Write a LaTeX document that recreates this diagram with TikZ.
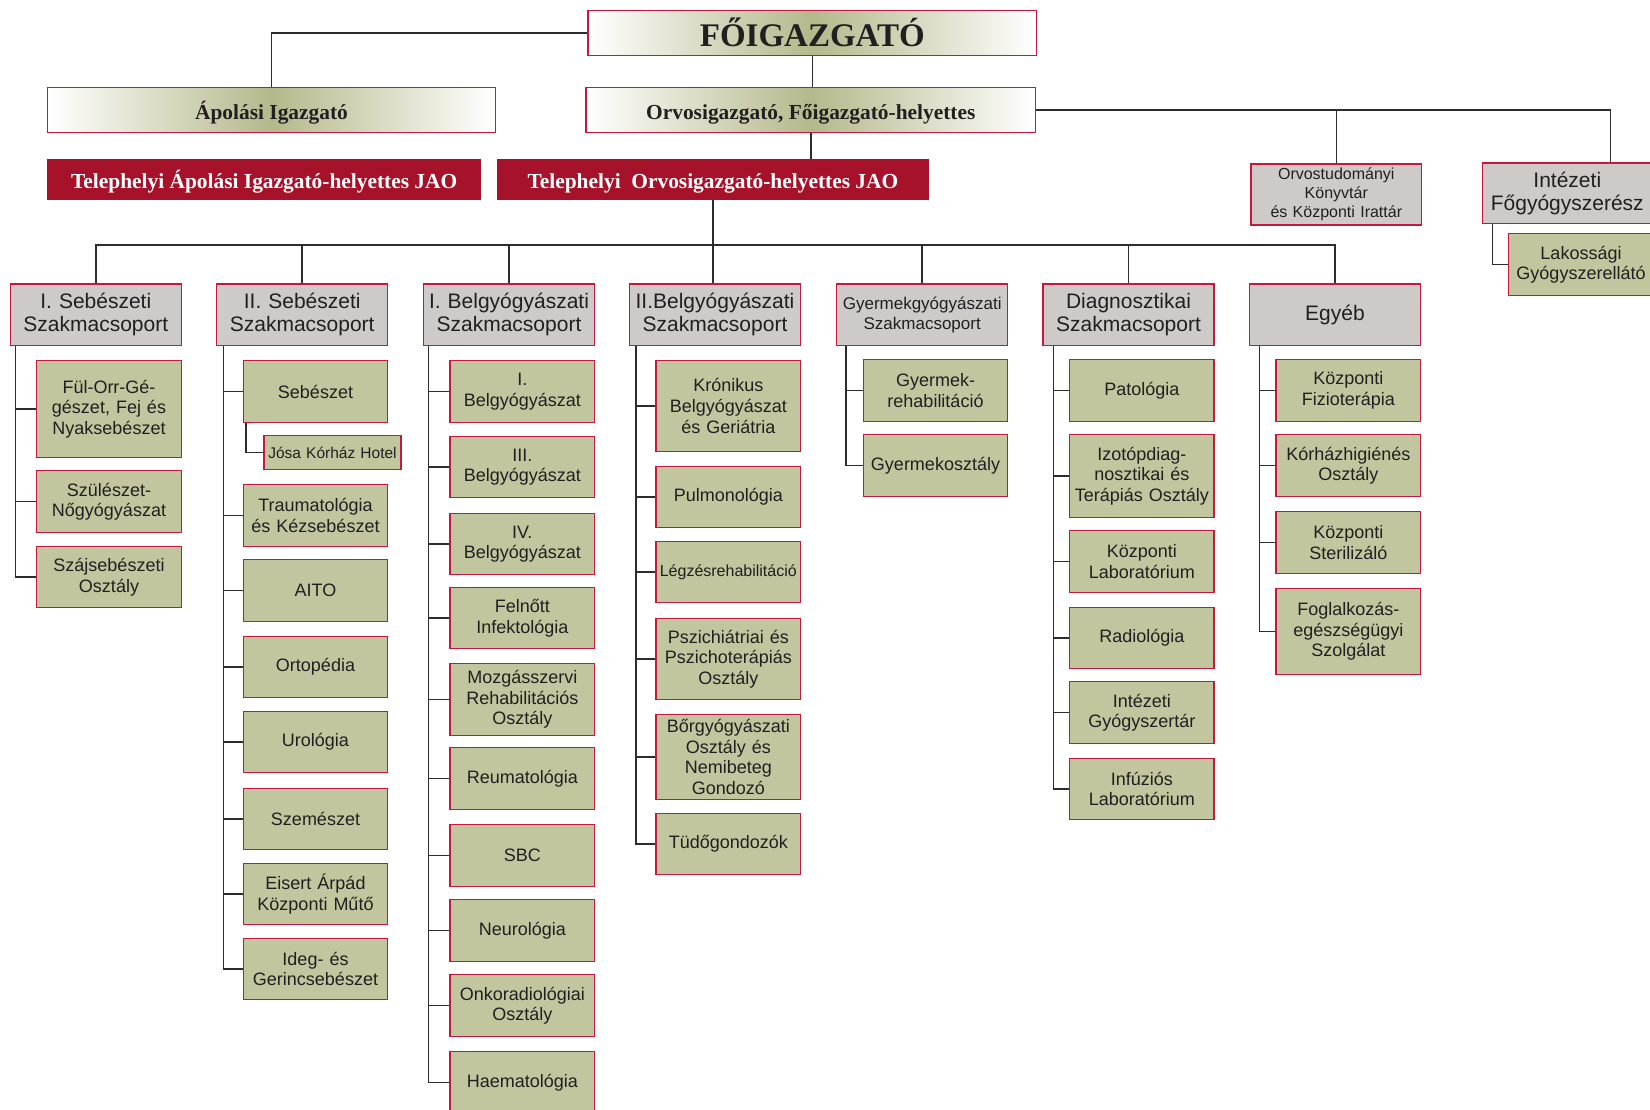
\documentclass[tikz,border=0pt]{standalone}
\usepackage{fontspec}
\setmainfont{Liberation Serif}
\setsansfont{Liberation Sans}
\renewcommand{\familydefault}{\sfdefault}

\definecolor{boxred}{RGB}{196,24,64}
\definecolor{unitgreen}{RGB}{194,198,158}
\definecolor{groupgrey}{RGB}{206,202,200}
\definecolor{jaored}{RGB}{166,18,42}
\definecolor{linegrey}{RGB}{45,45,45}
\definecolor{inkblack}{RGB}{35,31,32}
\definecolor{khaki}{RGB}{181,184,139}

\tikzset{
  link/.style={draw=linegrey, line width=1.5pt},
  head/.style={draw=boxred, line width=1.2pt, left color=white, right color=white, middle color=khaki,
    text=inkblack, inner sep=0pt, text height=22pt, text depth=3pt,
    font=\rmfamily\bfseries\fontsize{21.4pt}{24pt}\selectfont},
  jao/.style={fill=jaored, text=white, inner sep=0pt, text height=22pt, text depth=3pt,
    font=\rmfamily\bfseries\fontsize{21.4pt}{24pt}\selectfont},
  group/.style={draw=boxred, line width=1.2pt, fill=groupgrey, text=inkblack, inner sep=0pt,
    minimum width=171pt, minimum height=61.5pt, text width=169pt, align=center,
    font=\fontsize{21pt}{23pt}\selectfont},
  unit/.style={draw=boxred, line width=1.2pt, fill=unitgreen, text=inkblack, inner sep=0pt, anchor=north,
    minimum width=144.5pt, minimum height=61.5pt, text width=143pt, align=center,
    font=\fontsize{18pt}{20.6pt}\selectfont}
}

\begin{document}
\begin{tikzpicture}[x=1pt,y=-1pt]
\useasboundingbox (0,0) rectangle (1650,1110);
\clip (0,0) rectangle (1650,1110);

\node[head, minimum width=448.5pt, minimum height=45.3pt, text height=28pt, text depth=2pt, font=\rmfamily\bfseries\fontsize{33pt}{36pt}\selectfont] (chief) at (812.3,33.2) {FŐIGAZGATÓ};
\node[head, minimum width=448pt, minimum height=45.3pt] (nurse) at (271.5,110) {Ápolási Igazgató};
\node[head, minimum width=449.5pt, minimum height=45.3pt] (medic) at (810.8,110) {Orvosigazgató, Főigazgató-helyettes};
\node[jao, minimum width=433.6pt, minimum height=41pt] (nursejao) at (264.2,179.5) {Telephelyi Ápolási Igazgató-helyettes JAO};
\node[jao, minimum width=432.3pt, minimum height=41pt] (medjao) at (712.9,179.5) {Telephelyi\ \ Orvosigazgató-helyettes JAO};
\node[group, minimum width=170.6pt, minimum height=61pt, font=\fontsize{16pt}{19pt}\selectfont] (library) at (1336.3,194.5) {Orvostudományi\\Könyvtár\\és Központi Irattár};
\node[group, minimum width=169.3pt, minimum height=60.3pt] (pharm) at (1567.3,193.2) {Intézeti\\Főgyógyszerész};
\node[unit, anchor=center, minimum height=62pt] (retail) at (1581,264.7) {Lakossági\\Gyógyszerellátó};

\draw[link] (chief.west) -| (nurse.north);
\draw[link] (chief.south) -- (chief.south |- medic.north);
\draw[link] (medic.south) -- (medic.south |- medjao.north);
\draw[link] (medic.east) -| ([xshift=128.3pt]pharm.north west);
\draw[link] (library.north) -- (library.north |- medic.east);
\draw[link] ([xshift=10.3pt]pharm.south west) |- (retail.west);

\node[group] (surg1) at (95.8,314.75) {I. Sebészeti\\Szakmacsoport};
\node[group] (surg2) at (302.2,314.75) {II. Sebészeti\\Szakmacsoport};
\node[group] (int1) at (509,314.75) {I. Belgyógyászati\\Szakmacsoport};
\node[group] (int2) at (715,314.75) {II.Belgyógyászati\\Szakmacsoport};
\node[group, font=\fontsize{17pt}{20pt}\selectfont] (paed) at (922.2,314.75) {Gyermekgyógyászati\\Szakmacsoport};
\node[group] (diag) at (1128.5,314.75) {Diagnosztikai\\Szakmacsoport};
\node[group] (misc) at (1335,314.75) {Egyéb};

\coordinate (bus) at (0,245);
\draw[link] (surg1.north) |- (misc.north |- bus) -- (misc.north);
\foreach \g in {surg2,int1,paed,diag}
  \draw[link] (\g.north) -- (\g.north |- bus);
\draw[link] (medjao.south) -- (medjao.south |- int2.north);

\node[unit, minimum height=97pt] (ent) at (109,360) {Fül-Orr-Gé-\\gészet, Fej és\\Nyaksebészet};
\node[unit, minimum height=62pt] (obgyn) at (109,470) {Szülészet-\\Nőgyógyászat};
\node[unit, minimum height=61pt] (oral) at (109,546) {Szájsebészeti\\Osztály};

\node[unit, minimum height=62pt] (surgery) at (315.5,360) {Sebészet};
\node[unit, minimum width=137pt, text width=135pt, minimum height=34pt, font=\fontsize{15.5pt}{18pt}\selectfont] (hotel) at (332.5,435) {Jósa Kórház Hotel};
\node[unit, minimum height=62pt] (trauma) at (315.5,484) {Traumatológia\\és Kézsebészet};
\node[unit, minimum height=62pt] (aito) at (315.5,559) {AITO};
\node[unit, minimum height=61pt] (ortho) at (315.5,636) {Ortopédia};
\node[unit, minimum height=61pt] (uro) at (315.5,711) {Urológia};
\node[unit, minimum height=61pt] (eye) at (315.5,788) {Szemészet};
\node[unit, minimum height=61pt] (theatre) at (315.5,863) {Eisert Árpád\\Központi Műtő};
\node[unit, minimum height=61pt] (spine) at (315.5,938) {Ideg- és\\Gerincsebészet};

\node[unit, minimum height=62pt] (med1) at (522.3,360) {I.\\Belgyógyászat};
\node[unit, minimum height=61pt] (med3) at (522.3,436) {III.\\Belgyógyászat};
\node[unit, minimum height=61pt] (med4) at (522.3,513) {IV.\\Belgyógyászat};
\node[unit, minimum height=61pt] (infect) at (522.3,587) {Felnőtt\\Infektológia};
\node[unit, minimum height=71.5pt] (rehab) at (522.3,663) {Mozgásszervi\\Rehabilitációs\\Osztály};
\node[unit, minimum height=62pt] (rheum) at (522.3,747) {Reumatológia};
\node[unit, minimum height=62pt] (sbc) at (522.3,824) {SBC};
\node[unit, minimum height=62pt] (neuro) at (522.3,899) {Neurológia};
\node[unit, minimum height=62pt] (onco) at (522.3,974) {Onkoradiológiai\\Osztály};
\node[unit, minimum height=62pt] (haem) at (522.3,1051) {Haematológia};

\node[unit, minimum height=90.7pt] (chronic) at (728.3,360) {Krónikus\\Belgyógyászat\\és Geriátria};
\node[unit, minimum height=61pt] (pulmo) at (728.3,466) {Pulmonológia};
\node[unit, minimum height=61pt, font=\fontsize{16pt}{19pt}\selectfont] (resp) at (728.3,541) {Légzésrehabilitáció};
\node[unit, minimum height=81pt] (psych) at (728.3,618) {Pszichiátriai és\\Pszichoterápiás\\Osztály};
\node[unit, minimum height=85pt] (derm) at (728.3,714) {Bőrgyógyászati\\Osztály és\\Nemibeteg\\Gondozó};
\node[unit, minimum height=61pt] (tbc) at (728.3,813) {Tüdőgondozók};

\node[unit, minimum height=62pt] (kidrehab) at (935.5,359) {Gyermek-\\rehabilitáció};
\node[unit, minimum height=62pt] (kidward) at (935.5,434) {Gyermekosztály};

\node[unit, minimum height=62pt] (patho) at (1141.8,359) {Patológia};
\node[unit, minimum height=83pt] (isotope) at (1141.8,434) {Izotópdiag-\\nosztikai és\\Terápiás Osztály};
\node[unit, minimum height=62pt] (lab) at (1141.8,530) {Központi\\Laboratórium};
\node[unit, minimum height=61pt] (radio) at (1141.8,607) {Radiológia};
\node[unit, minimum height=62pt] (pharmacy) at (1141.8,681) {Intézeti\\Gyógyszertár};
\node[unit, minimum height=61pt] (infusion) at (1141.8,758) {Infúziós\\Laboratórium};

\node[unit, minimum height=62pt] (physio) at (1348.3,359) {Központi\\Fizioterápia};
\node[unit, minimum height=62pt] (hygiene) at (1348.3,434) {Kórházhigiénés\\Osztály};
\node[unit, minimum height=62pt] (steril) at (1348.3,511) {Központi\\Sterilizáló};
\node[unit, minimum height=86pt] (occup) at (1348.3,588) {Foglalkozás-\\egészségügyi\\Szolgálat};

\draw[link] ([xshift=6pt]surg1.south west) coordinate (t1) |- (oral.west);
\foreach \n in {ent,obgyn} \draw[link] (\n.west) -- (\n.west -| t1);
\draw[link] ([xshift=7.3pt]surg2.south west) coordinate (t2) |- (spine.west);
\foreach \n in {surgery,trauma,aito,ortho,uro,eye,theatre} \draw[link] (\n.west) -- (\n.west -| t2);
\draw[link] ([xshift=3.4pt]surgery.south west) |- (hotel.west);
\draw[link] ([xshift=5.5pt]int1.south west) coordinate (t3) |- (haem.west);
\foreach \n in {med1,med3,med4,infect,rehab,rheum,sbc,neuro,onco} \draw[link] (\n.west) -- (\n.west -| t3);
\draw[link] ([xshift=7.2pt]int2.south west) coordinate (t4) |- (tbc.west);
\foreach \n in {chronic,pulmo,resp,psych,derm} \draw[link] (\n.west) -- (\n.west -| t4);
\draw[link] ([xshift=10pt]paed.south west) coordinate (t5) |- (kidward.west);
\draw[link] (kidrehab.west) -- (kidrehab.west -| t5);
\draw[link] ([xshift=11pt]diag.south west) coordinate (t6) |- (infusion.west);
\foreach \n in {patho,isotope,lab,radio,pharmacy} \draw[link] (\n.west) -- (\n.west -| t6);
\draw[link] ([xshift=10.5pt]misc.south west) coordinate (t7) |- (occup.west);
\foreach \n in {physio,hygiene,steril} \draw[link] (\n.west) -- (\n.west -| t7);
\end{tikzpicture}
\end{document}
